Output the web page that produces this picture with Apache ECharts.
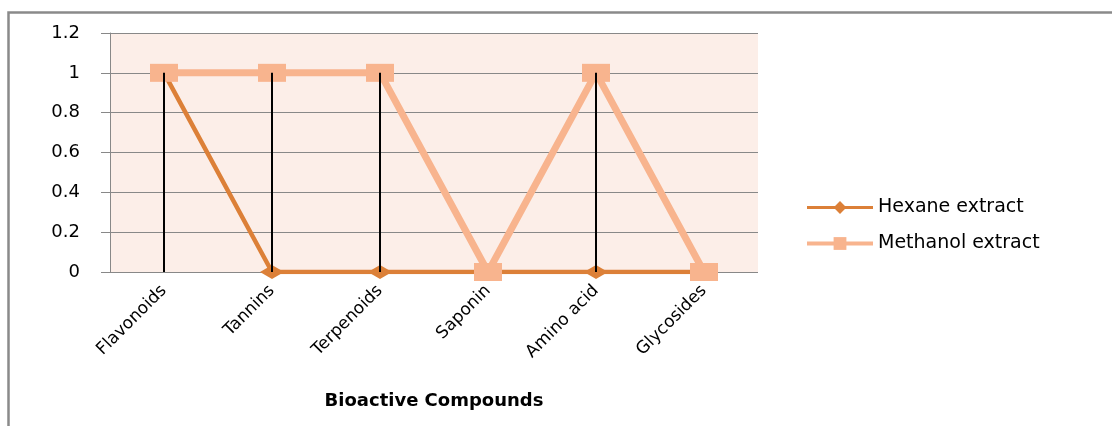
<!DOCTYPE html>
<html>
<head>
<meta charset="utf-8">
<script src="https://cdn.jsdelivr.net/npm/echarts@6/dist/echarts.min.js"></script>
<style>
html,body{margin:0;padding:0;background:#fff;}
#chart{width:1112px;height:426px;}
</style>
</head>
<body>
<div id="chart"></div>
<script>
var categories = ['Flavonoids', 'Tannins', 'Terpenoids', 'Saponin', 'Amino acid', 'Glycosides'];
var hexane = [1, 0, 0, 0, 0, 0];
var methanol = [1, 1, 1, 0, 1, 0];
var yTicks = ['0', '0.2', '0.4', '0.6', '0.8', '1', '1.2'];

var dropLines = categories.map(function (c, i) { return Math.max(hexane[i], methanol[i]); });

var chart = echarts.init(document.getElementById('chart'));
var font = 'DejaVu Sans';
chart.setOption({
  animation: false,
  backgroundColor: '#ffffff',
  graphic: [{
    type: 'rect',
    shape: { x: 8.5, y: 12.5, width: 1200, height: 600 },
    style: { fill: 'none', stroke: '#8a8a8a', lineWidth: 2.5 },
    silent: true
  }],
  grid: {
    left: 110, right: 354, top: 33, bottom: 154,
    show: true, backgroundColor: '#FCEEE8', borderWidth: 0
  },
  legend: {
    orient: 'vertical',
    left: 800, top: 193,
    itemWidth: 66, itemHeight: 16, itemGap: 17,
    data: [
      { name: 'Hexane extract', lineStyle: { width: 3 } },
      { name: 'Methanol extract', lineStyle: { width: 4 } }
    ],
    textStyle: { fontFamily: font, fontSize: 19, color: '#000' }
  },
  xAxis: {
    type: 'category',
    data: categories,
    boundaryGap: true,
    axisLine: { show: false },
    axisTick: { show: false },
    axisLabel: { rotate: 45, margin: 16, fontFamily: font, fontSize: 17, color: '#000', interval: 0 },
    name: 'Bioactive Compounds',
    nameLocation: 'middle',
    nameGap: 120,
    nameTextStyle: { fontFamily: font, fontSize: 18, fontWeight: 'bold', color: '#000' }
  },
  yAxis: {
    type: 'value',
    min: 0, max: 1.2, interval: 0.2,
    axisLine: { show: true, lineStyle: { color: '#888', width: 1 } },
    axisTick: { show: true, length: 9, lineStyle: { color: '#888' } },
    splitLine: { show: true, lineStyle: { color: '#888', width: 1 } },
    axisLabel: {
      margin: 30, fontFamily: font, fontSize: 18, color: '#000',
      formatter: function (v) { var i = Math.round(v / 0.2); return yTicks[i]; }
    }
  },
  series: [
    {
      name: 'Hexane extract',
      type: 'line',
      data: hexane,
      symbol: 'diamond',
      symbolSize: [24, 14],
      lineStyle: { color: '#DC8038', width: 4.5 },
      itemStyle: { color: '#DC8038' },
      z: 2
    },
    {
      name: 'Methanol extract',
      type: 'line',
      data: methanol,
      symbol: 'rect',
      symbolSize: [28, 18],
      lineStyle: { color: '#F8B48E', width: 7 },
      itemStyle: { color: '#F8B48E' },
      z: 3
    },
    {
      name: 'drop',
      type: 'bar',
      data: dropLines,
      barWidth: 2,
      itemStyle: { color: '#000' },
      z: 5,
      silent: true
    }
  ]
});
</script>
</body>
</html>
